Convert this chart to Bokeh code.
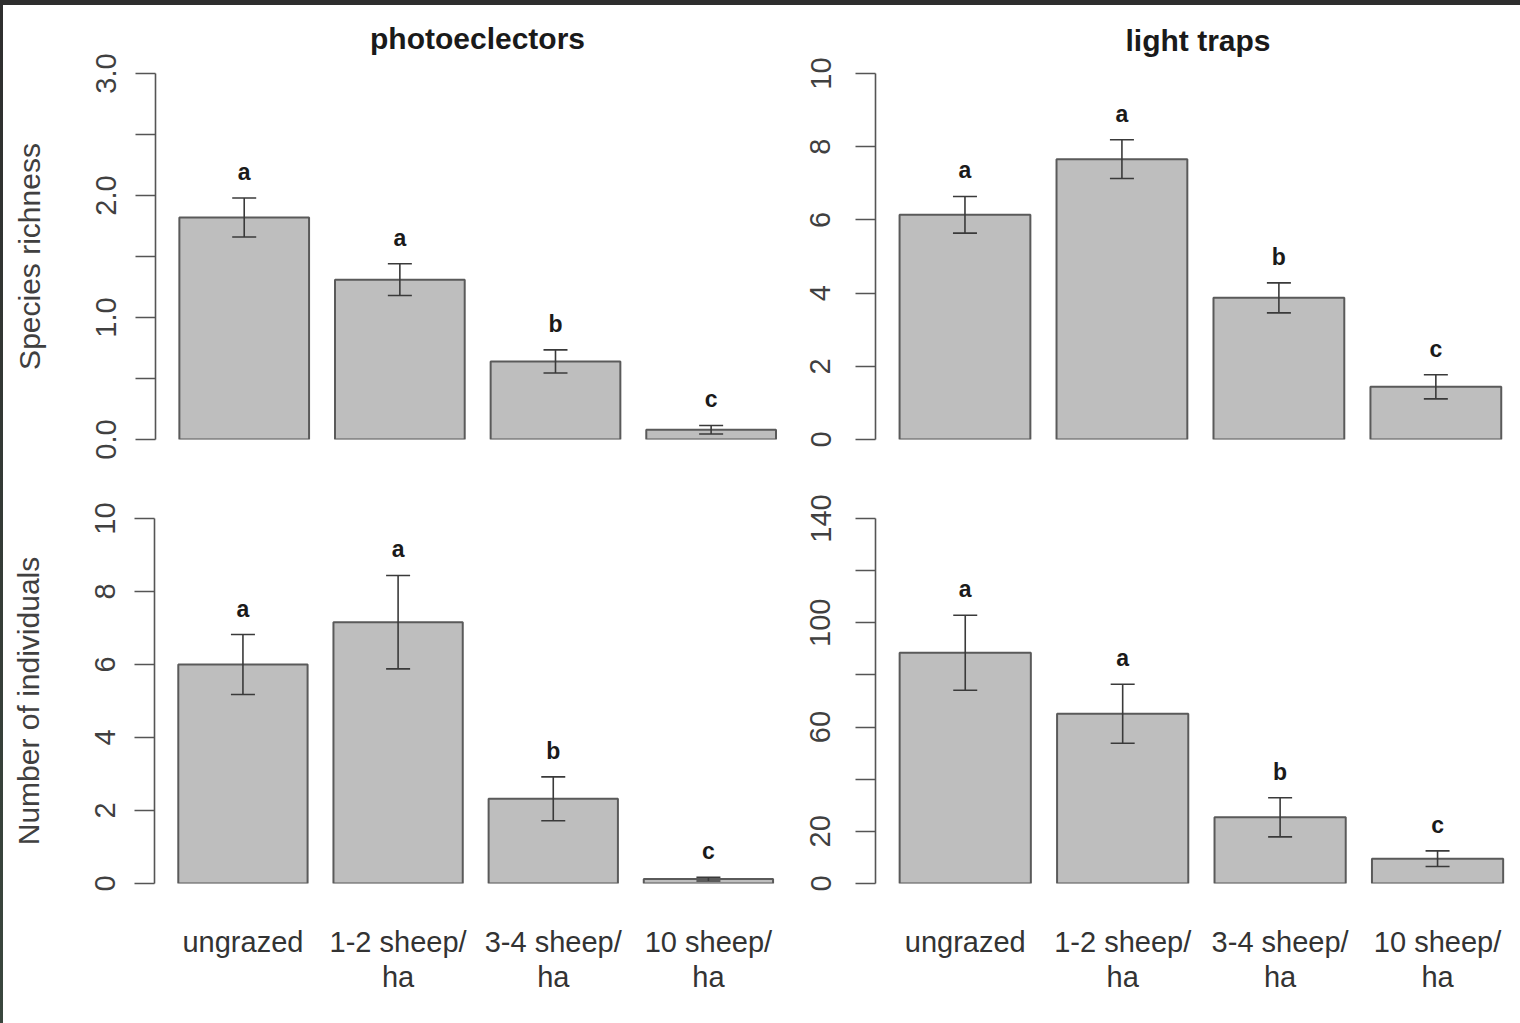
from bokeh.plotting import figure
from bokeh.layouts import row, column
from bokeh.models import Range1d, FixedTicker, Whisker, TeeHead, ColumnDataSource, Div
from bokeh.embed import file_html
from bokeh.resources import INLINE
from bokeh.core.properties import value

# ---------------- data ----------------
categories = ["ungrazed", "1-2 sheep/\nha", "3-4 sheep/\nha", "10 sheep/\nha"]

photo_richness = [1.82, 1.31, 0.64, 0.08]
photo_richness_se = [0.16, 0.13, 0.095, 0.035]
photo_richness_letters = ["a", "a", "b", "c"]

light_richness = [6.14, 7.66, 3.87, 1.44]
light_richness_se = [0.5, 0.53, 0.41, 0.33]
light_richness_letters = ["a", "a", "b", "c"]

photo_individuals = [6.0, 7.16, 2.32, 0.12]
photo_individuals_se = [0.82, 1.28, 0.6, 0.05]
photo_individuals_letters = ["a", "a", "b", "c"]

light_individuals = [88.5, 65.1, 25.4, 9.5]
light_individuals_se = [14.4, 11.3, 7.5, 3.0]
light_individuals_letters = ["a", "a", "b", "c"]

y_ticks_richness_photo = [0, 0.5, 1.0, 1.5, 2.0, 2.5, 3.0]
y_labels_richness_photo = ["0.0", "", "1.0", "", "2.0", "", "3.0"]
y_ticks_richness_light = [0, 2, 4, 6, 8, 10]
y_labels_richness_light = ["0", "2", "4", "6", "8", "10"]
y_ticks_ind_photo = [0, 2, 4, 6, 8, 10]
y_labels_ind_photo = ["0", "2", "4", "6", "8", "10"]
y_ticks_ind_light = [0, 20, 40, 60, 80, 100, 120, 140]
y_labels_ind_light = ["0", "20", "", "60", "", "100", "", "140"]

FONT = "Liberation Sans"
# bar centres as in R's barplot (width 1, space 0.2)
centers = [round(0.7 + 1.2 * i, 2) for i in range(len(categories))]

TOP_STRIP = {"background": "linear-gradient(to bottom, #2e2e2e 0px, #2e2e2e 5px, #ffffff 5px, #ffffff 100%)"}


def panel(vals, se, letters, yticks, ylabels, ymax, width, height,
          bl, br, bt, bb, scale, title=None, ylabel=None, xlabels=False,
          label_standoff=20, title_standoff=30, top_strip=False):
    frame_w = width - bl - br
    x0 = 0.016
    p = figure(width=width, height=height, output_backend="svg",
               toolbar_location=None, x_range=Range1d(x0, x0 + frame_w / scale),
               y_range=Range1d(0, ymax), min_border_left=bl, min_border_right=br,
               min_border_top=bt, min_border_bottom=bb,
               x_axis_location="below" if xlabels else None,
               background_fill_color="white",
               border_fill_color=None if top_strip else "white",
               styles=TOP_STRIP if top_strip else {})
    p.outline_line_color = None
    p.xgrid.visible = False
    p.ygrid.visible = False

    src = ColumnDataSource(dict(
        x=centers, top=vals,
        upper=[v + s for v, s in zip(vals, se)],
        lower=[v - s for v, s in zip(vals, se)],
        letter=letters))
    p.vbar(x="x", top="top", bottom=0, width=1.0, source=src,
           fill_color="#bebebe", line_color="#5a5a5a", line_width=2)
    w = Whisker(base="x", upper="upper", lower="lower", source=src,
                line_color="#3a3a3a", line_width=1.6, level="overlay",
                upper_head=TeeHead(size=24, line_color="#3a3a3a", line_width=1.6),
                lower_head=TeeHead(size=24, line_color="#3a3a3a", line_width=1.6))
    p.add_layout(w)
    p.text(x="x", y="upper", text="letter", source=src, y_offset=-26,
           text_align="center", text_baseline="middle",
           text_font=value(FONT), text_font_style="bold",
           text_font_size="23px", text_color="#1a1a1a")

    ya = p.yaxis[0]
    ya.ticker = FixedTicker(ticks=yticks)
    ya.major_label_overrides = {t: l for t, l in zip(yticks, ylabels)}
    ya.minor_tick_line_color = None
    ya.major_tick_out = 20
    ya.major_tick_in = 0
    ya.axis_line_color = "#555555"
    ya.axis_line_width = 1.6
    ya.major_tick_line_color = "#555555"
    ya.major_tick_line_width = 1.6
    ya.major_label_orientation = "vertical"
    ya.major_label_standoff = label_standoff
    ya.major_label_text_font = FONT
    ya.major_label_text_font_size = "29px"
    ya.major_label_text_color = "#404040"
    if ylabel:
        ya.axis_label = ylabel
        ya.axis_label_text_font = FONT
        ya.axis_label_text_font_size = "30px"
        ya.axis_label_text_font_style = "normal"
        ya.axis_label_text_color = "#404040"
        ya.axis_label_standoff = 47

    if xlabels:
        xa = p.xaxis[0]
        xa.ticker = FixedTicker(ticks=centers)
        xa.major_label_overrides = {c: l for c, l in zip(centers, categories)}
        xa.minor_tick_line_color = None
        xa.major_tick_line_color = None
        xa.axis_line_color = None
        xa.major_label_standoff = 36
        xa.major_label_text_font = FONT
        xa.major_label_text_font_size = "29px"
        xa.major_label_text_line_height = 1.1
        xa.major_label_text_color = "#333333"

    if title:
        p.title.text = title
        p.title.align = "center"
        p.title.text_font = FONT
        p.title.text_font_size = "30px"
        p.title.text_font_style = "bold"
        p.title.text_color = "#1a1a1a"
        p.title.standoff = title_standoff
    return p


tl = panel(photo_richness, photo_richness_se, photo_richness_letters,
           y_ticks_richness_photo, y_labels_richness_photo, 3.0,
           width=797, height=470, bl=152, br=1, bt=73, bb=31, scale=129.7,
           title="photoeclectors", ylabel="Species richness",
           label_standoff=20, title_standoff=37, top_strip=True)
tr = panel(light_richness, light_richness_se, light_richness_letters,
           y_ticks_richness_light, y_labels_richness_light, 10,
           width=720, height=470, bl=75, br=0, bt=73, bb=29, scale=130.8,
           title="light traps", label_standoff=25, title_standoff=33,
           top_strip=True)
bl = panel(photo_individuals, photo_individuals_se, photo_individuals_letters,
           y_ticks_ind_photo, y_labels_ind_photo, 10,
           width=797, height=553, bl=151, br=3, bt=48, bb=140, scale=129.3,
           ylabel="Number of individuals", xlabels=True, label_standoff=20)
br = panel(light_individuals, light_individuals_se, light_individuals_letters,
           y_ticks_ind_light, y_labels_ind_light, 140,
           width=720, height=553, bl=75, br=0, bt=43, bb=140, scale=131.2,
           xlabels=True, label_standoff=25)

left_bar = Div(width=3, height=1023, margin=(0, 0, 0, 0),
               styles={"background": "linear-gradient(to bottom, #2e2e2e, #3a473e)"})

grid = column(row(tl, tr, spacing=0), row(bl, br, spacing=0), spacing=0)
layout = row(left_bar, grid, spacing=0)

open("out.html", "w").write(file_html(layout, INLINE))
